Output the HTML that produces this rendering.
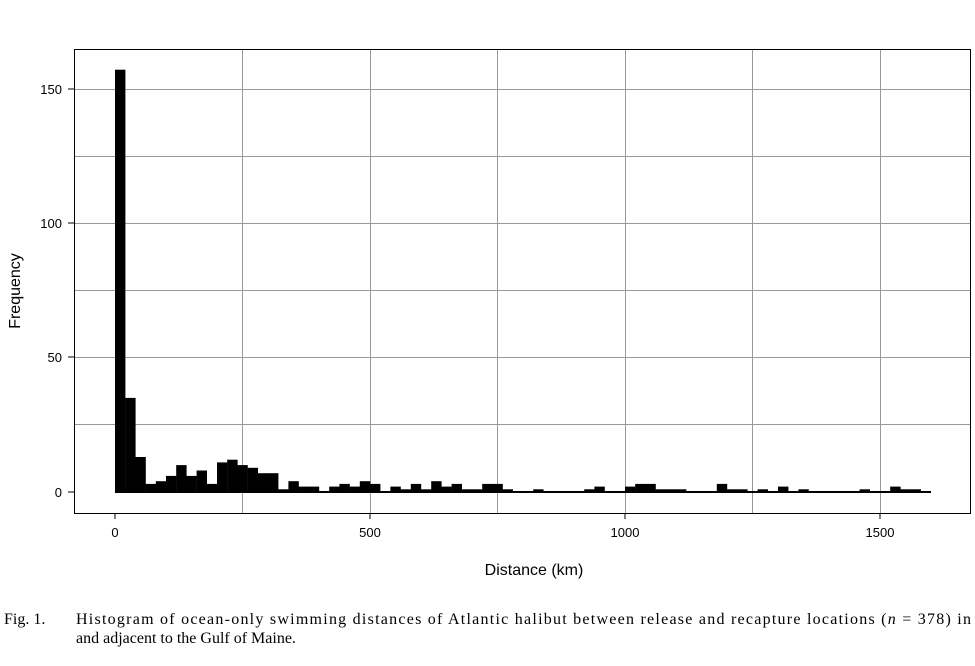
<!DOCTYPE html>
<html><head><style>body{margin:0;background:#fff}</style></head><body>
<svg width="975" height="661" xmlns="http://www.w3.org/2000/svg" font-family="Liberation Sans, sans-serif">
<rect x="0" y="0" width="975" height="661" fill="#fff"/>
<g stroke="#999" stroke-width="1">
<line x1="242.5" y1="49" x2="242.5" y2="513"/><line x1="370.5" y1="49" x2="370.5" y2="513"/><line x1="497.5" y1="49" x2="497.5" y2="513"/><line x1="625.5" y1="49" x2="625.5" y2="513"/><line x1="752.5" y1="49" x2="752.5" y2="513"/><line x1="880.5" y1="49" x2="880.5" y2="513"/>
<line x1="74" y1="89.5" x2="971" y2="89.5"/><line x1="74" y1="156.5" x2="971" y2="156.5"/><line x1="74" y1="223.5" x2="971" y2="223.5"/><line x1="74" y1="290.5" x2="971" y2="290.5"/><line x1="74" y1="357.5" x2="971" y2="357.5"/><line x1="74" y1="424.5" x2="971" y2="424.5"/>
</g>
<g fill="#000">
<rect x="115" y="69.7" width="10.4" height="422.3"/>
<rect x="125.2" y="397.9" width="10.4" height="94.1"/>
<rect x="135.4" y="457" width="10.4" height="35"/>
<rect x="145.6" y="483.9" width="10.4" height="8.1"/>
<rect x="155.8" y="481.2" width="10.4" height="10.8"/>
<rect x="166" y="475.9" width="10.4" height="16.1"/>
<rect x="176.2" y="465.1" width="10.4" height="26.9"/>
<rect x="186.4" y="475.9" width="10.4" height="16.1"/>
<rect x="196.6" y="470.5" width="10.4" height="21.5"/>
<rect x="206.8" y="483.9" width="10.4" height="8.1"/>
<rect x="217" y="462.4" width="10.4" height="29.6"/>
<rect x="227.2" y="459.7" width="10.4" height="32.3"/>
<rect x="237.4" y="465.1" width="10.4" height="26.9"/>
<rect x="247.6" y="467.8" width="10.4" height="24.2"/>
<rect x="257.8" y="473.2" width="10.4" height="18.8"/>
<rect x="268" y="473.2" width="10.4" height="18.8"/>
<rect x="278.2" y="489.3" width="10.4" height="2.7"/>
<rect x="288.4" y="481.2" width="10.4" height="10.8"/>
<rect x="298.6" y="486.6" width="10.4" height="5.4"/>
<rect x="308.8" y="486.6" width="10.4" height="5.4"/>
<rect x="329.2" y="486.6" width="10.4" height="5.4"/>
<rect x="339.4" y="483.9" width="10.4" height="8.1"/>
<rect x="349.6" y="486.6" width="10.4" height="5.4"/>
<rect x="359.8" y="481.2" width="10.4" height="10.8"/>
<rect x="370" y="483.9" width="10.4" height="8.1"/>
<rect x="390.4" y="486.6" width="10.4" height="5.4"/>
<rect x="400.6" y="489.3" width="10.4" height="2.7"/>
<rect x="410.8" y="483.9" width="10.4" height="8.1"/>
<rect x="421" y="489.3" width="10.4" height="2.7"/>
<rect x="431.2" y="481.2" width="10.4" height="10.8"/>
<rect x="441.4" y="486.6" width="10.4" height="5.4"/>
<rect x="451.6" y="483.9" width="10.4" height="8.1"/>
<rect x="461.8" y="489.3" width="10.4" height="2.7"/>
<rect x="472" y="489.3" width="10.4" height="2.7"/>
<rect x="482.2" y="483.9" width="10.4" height="8.1"/>
<rect x="492.4" y="483.9" width="10.4" height="8.1"/>
<rect x="502.6" y="489.3" width="10.4" height="2.7"/>
<rect x="533.2" y="489.3" width="10.4" height="2.7"/>
<rect x="584.2" y="489.3" width="10.4" height="2.7"/>
<rect x="594.4" y="486.6" width="10.4" height="5.4"/>
<rect x="625" y="486.6" width="10.4" height="5.4"/>
<rect x="635.2" y="483.9" width="10.4" height="8.1"/>
<rect x="645.4" y="483.9" width="10.4" height="8.1"/>
<rect x="655.6" y="489.3" width="10.4" height="2.7"/>
<rect x="665.8" y="489.3" width="10.4" height="2.7"/>
<rect x="676" y="489.3" width="10.4" height="2.7"/>
<rect x="716.8" y="483.9" width="10.4" height="8.1"/>
<rect x="727" y="489.3" width="10.4" height="2.7"/>
<rect x="737.2" y="489.3" width="10.4" height="2.7"/>
<rect x="757.6" y="489.3" width="10.4" height="2.7"/>
<rect x="778" y="486.6" width="10.4" height="5.4"/>
<rect x="798.4" y="489.3" width="10.4" height="2.7"/>
<rect x="859.6" y="489.3" width="10.4" height="2.7"/>
<rect x="890.2" y="486.6" width="10.4" height="5.4"/>
<rect x="900.4" y="489.3" width="10.4" height="2.7"/>
<rect x="910.6" y="489.3" width="10.4" height="2.7"/>
</g>
<line x1="115" y1="492" x2="931" y2="492" stroke="#000" stroke-width="2"/>
<rect x="74.5" y="49.5" width="896" height="464" fill="none" stroke="#000" stroke-width="1"/>
<g stroke="#000"><line x1="115" y1="513" x2="115" y2="519"/><line x1="370" y1="513" x2="370" y2="519"/><line x1="625" y1="513" x2="625" y2="519"/><line x1="880" y1="513" x2="880" y2="519"/>
<line x1="68" y1="492" x2="74" y2="492"/><line x1="68" y1="357" x2="74" y2="357"/><line x1="68" y1="223" x2="74" y2="223"/><line x1="68" y1="89" x2="74" y2="89"/></g>
<g font-size="13" text-anchor="middle"><text x="115" y="537">0</text><text x="370" y="537">500</text><text x="625" y="537">1000</text><text x="880" y="537">1500</text></g>
<g font-size="13" text-anchor="end"><text x="62" y="497">0</text><text x="62" y="362">50</text><text x="62" y="228">100</text><text x="62" y="94">150</text></g>
<text x="534" y="575" font-size="16" text-anchor="middle">Distance (km)</text>
<text transform="translate(20,291) rotate(-90)" font-size="16" text-anchor="middle">Frequency</text>
<g font-family="Liberation Serif, serif" font-size="16"><text x="4" y="624">Fig. 1.</text><text x="76" y="624" textLength="895">Histogram of ocean-only swimming distances of Atlantic halibut between release and recapture locations (<tspan font-style="italic">n</tspan> = 378) in</text><text x="76" y="643">and adjacent to the Gulf of Maine.</text></g>
</svg>
</body></html>
